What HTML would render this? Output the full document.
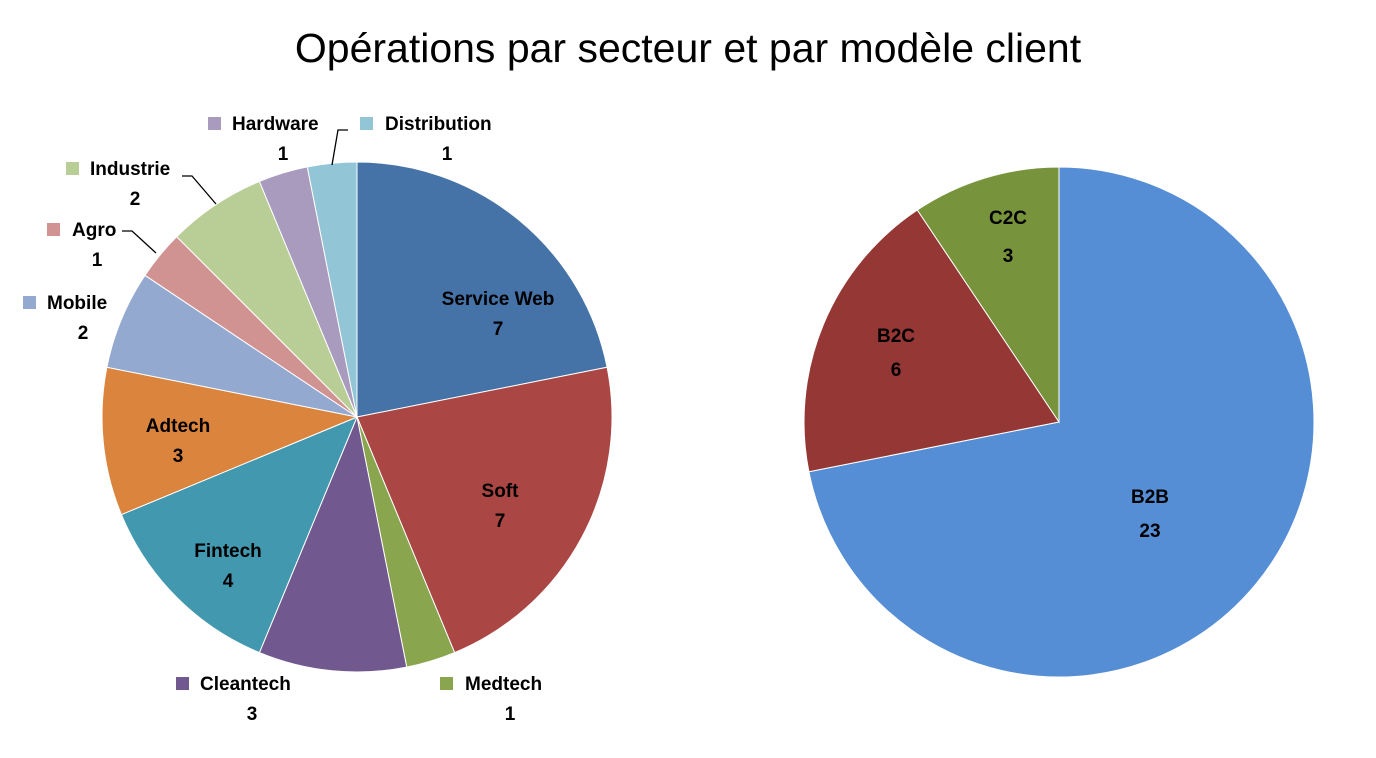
<!DOCTYPE html>
<html><head><meta charset="utf-8"><style>
html,body{margin:0;padding:0;background:#fff;}
svg text{font-family:"Liberation Sans",sans-serif;}
</style></head><body>
<svg id="s" width="1376" height="753" xmlns="http://www.w3.org/2000/svg">
<text x="688" y="62" font-size="41" text-anchor="middle" fill="#000">Opérations par secteur et par modèle client</text>
<g id="p1"></g><g id="p2"></g>
<g font-size="19" font-weight="bold" fill="#000" text-anchor="middle">
<text x="498" y="305">Service Web</text><text x="498" y="335">7</text>
<text x="500" y="497">Soft</text><text x="500" y="527">7</text>
<text x="228" y="557">Fintech</text><text x="228" y="587">4</text>
<text x="178" y="432">Adtech</text><text x="178" y="462">3</text>
<text x="896" y="342">B2C</text><text x="896" y="376">6</text>
<text x="1008" y="224">C2C</text><text x="1008" y="262">3</text>
<text x="1150" y="503">B2B</text><text x="1150" y="537">23</text>
</g>
<g font-size="19" font-weight="bold" fill="#000">
<rect x="208" y="117" width="13" height="13" fill="#A99BBD"/><text x="232" y="130">Hardware</text><text x="283" y="160" text-anchor="middle">1</text>
<rect x="360" y="117" width="13" height="13" fill="#92C5D5"/><text x="385" y="130">Distribution</text><text x="447" y="160" text-anchor="middle">1</text>
<rect x="66" y="162" width="13" height="13" fill="#B9CD96"/><text x="90" y="175">Industrie</text><text x="135" y="205" text-anchor="middle">2</text>
<rect x="47" y="223" width="13" height="13" fill="#D19392"/><text x="72" y="236">Agro</text><text x="97" y="266" text-anchor="middle">1</text>
<rect x="23" y="296" width="13" height="13" fill="#93A9CF"/><text x="47" y="309">Mobile</text><text x="83" y="339" text-anchor="middle">2</text>
<rect x="176" y="677" width="13" height="13" fill="#71588F"/><text x="200" y="690">Cleantech</text><text x="252" y="720" text-anchor="middle">3</text>
<rect x="440" y="677" width="13" height="13" fill="#89A54E"/><text x="465" y="690">Medtech</text><text x="510" y="720" text-anchor="middle">1</text>
</g>
<g stroke="#000" stroke-width="1.3" fill="none">
<polyline points="182,176 192,176 216,204"/>
<polyline points="122,231 132,231 156,253"/>
<polyline points="348,130 338,130 332,165"/>
</g>
</svg>
<script>
function pie(g,cx,cy,r,vals,cols){var t=0,tot=vals.reduce((a,b)=>a+b,0),h='';
for(var i=0;i<vals.length;i++){var a0=t/tot*2*Math.PI;t+=vals[i];var a1=t/tot*2*Math.PI;
var x0=cx+r*Math.sin(a0),y0=cy-r*Math.cos(a0),x1=cx+r*Math.sin(a1),y1=cy-r*Math.cos(a1);
var large=(a1-a0)>Math.PI?1:0;
h+='<path d="M'+cx+','+cy+' L'+x0+','+y0+' A'+r+','+r+' 0 '+large+' 1 '+x1+','+y1+' Z" fill="'+cols[i]+'" stroke="#fff" stroke-width="1"/>';}
document.getElementById(g).innerHTML=h;}
pie('p1',357,417,255,[7,7,1,3,4,3,2,1,2,1,1],['#4572A7','#AA4643','#89A54E','#71588F','#4198AF','#DB843D','#93A9CF','#D19392','#B9CD96','#A99BBD','#92C5D5']);
pie('p2',1059,422,255,[23,6,3],['#558ED5','#953735','#77933C']);
</script>
</body></html>
